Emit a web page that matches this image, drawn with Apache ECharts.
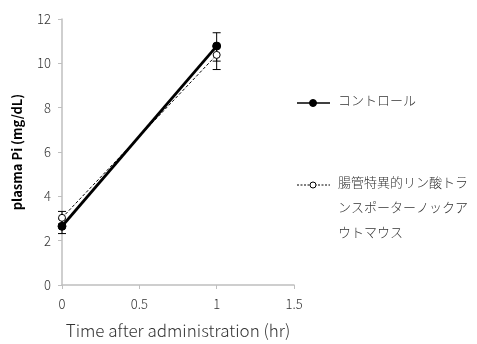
<!DOCTYPE html>
<html><head><meta charset="utf-8">
<script src="https://cdn.jsdelivr.net/npm/echarts@6/dist/echarts.min.js"></script>
<style>html,body{margin:0;padding:0;background:#fff}#c{width:477px;height:344px}</style>
</head><body><div id="c"></div>
<script>
const timePoints = [0, 1];
const controlName = 'コントロール';
const koName = '腸管特異的リン酸トランスポーターノックアウトマウス';
const koLabelLines = ['腸管特異的リン酸トラ', 'ンスポーターノックア', 'ウトマウス'];
const controlMean = [2.65, 10.78];
const controlLow = [2.32, 10.1];
const controlHigh = [2.98, 11.38];
const koMean = [3.03, 10.38];
const koLow = [2.75, 9.72];
const koHigh = [3.32, 10.75];
const yTicks = [0, 2, 4, 6, 8, 10, 12];
const xTicks = [0, 0.5, 1, 1.5];

const chart = echarts.init(document.getElementById('c'));
const FONT = '"Noto Sans CJK JP", "Noto Sans", sans-serif';

function errSeries(name, low, high, width) {
  return {
    type: 'custom', name: name + ' err', z: 3,
    data: timePoints.map((t, i) => [t, low[i], high[i]]),
    renderItem: function (params, api) {
      const lo = api.coord([api.value(0), api.value(1)]);
      const hi = api.coord([api.value(0), api.value(2)]);
      const w = 4;
      const st = { stroke: '#000', lineWidth: width };
      return { type: 'group', children: [
        { type: 'line', shape: { x1: lo[0], y1: lo[1], x2: hi[0], y2: hi[1] }, style: st },
        { type: 'line', shape: { x1: lo[0] - w, y1: lo[1], x2: lo[0] + w, y2: lo[1] }, style: st },
        { type: 'line', shape: { x1: hi[0] - w, y1: hi[1], x2: hi[0] + w, y2: hi[1] }, style: st }
      ]};
    }
  };
}

const lgX = 297, lgY1 = 103, lgY2 = 185;
const graphics = [
  { type: 'line', shape: { x1: lgX, y1: lgY1, x2: lgX + 33, y2: lgY1 }, style: { stroke: '#000', lineWidth: 1.5 } },
  { type: 'circle', shape: { cx: lgX + 16, cy: lgY1, r: 3.5 }, style: { fill: '#000', stroke: '#000' } },
  { type: 'text', left: lgX + 41, top: lgY1 - 9, style: { text: controlName, font: '300 13px ' + FONT, fill: '#333' } },
  { type: 'line', shape: { x1: lgX, y1: lgY2, x2: lgX + 33, y2: lgY2 }, style: { stroke: '#000', lineWidth: 1, lineDash: [2, 1.5] } },
  { type: 'circle', shape: { cx: lgX + 16, cy: lgY2, r: 3 }, style: { fill: '#fff', stroke: '#000', lineWidth: 1 } }
];
koLabelLines.forEach((s, i) => graphics.push({ type: 'text', left: lgX + 41, top: lgY2 - 9 + i * 25, style: { text: s, font: '300 13px ' + FONT, fill: '#333' } }));

chart.setOption({
  animation: false,
  backgroundColor: '#fff',
  grid: { left: 62, right: 183, top: 19, bottom: 58, containLabel: false },
  xAxis: {
    type: 'value', min: 0, max: 1.5, interval: 0.5,
    name: 'Time after administration (hr)', nameLocation: 'middle', nameGap: 37,
    nameTextStyle: { fontFamily: FONT, fontSize: 17, fontWeight: 300, color: '#333' },
    axisLine: { lineStyle: { color: '#bfbfbf', width: 1.5 } },
    axisTick: { show: true, length: 4, lineStyle: { color: '#bfbfbf' } },
    axisLabel: { fontFamily: FONT, fontSize: 13, fontWeight: 300, color: '#333', margin: 13, formatter: v => String(v) },
    splitLine: { show: false }
  },
  yAxis: {
    type: 'value', min: 0, max: 12, interval: 2,
    name: 'plasma Pi (mg/dL)', nameLocation: 'middle', nameGap: 38,
    nameTextStyle: { fontFamily: FONT, fontSize: 13, fontWeight: 'bold', color: '#000' },
    axisLine: { show: true, lineStyle: { color: '#bfbfbf', width: 1.5 } },
    axisTick: { show: true, length: 4, lineStyle: { color: '#bfbfbf' } },
    axisLabel: { fontFamily: FONT, fontSize: 13, fontWeight: 300, color: '#333', margin: 11 },
    splitLine: { show: false }
  },
  series: [
    errSeries('ctrl', controlLow, controlHigh, 1),
    errSeries('ko', koLow, koHigh, 1),
    { type: 'line', name: controlName, z: 4, data: timePoints.map((t, i) => [t, controlMean[i]]),
      symbol: 'circle', symbolSize: 8, lineStyle: { color: '#000', width: 2.8 },
      itemStyle: { color: '#000', borderColor: '#000' } },
    { type: 'line', name: koName, z: 5, data: timePoints.map((t, i) => [t, koMean[i]]),
      symbol: 'circle', symbolSize: 7, lineStyle: { color: '#000', width: 1, type: [3, 2] },
      itemStyle: { color: '#fff', borderColor: '#000', borderWidth: 1 } }
  ],
  graphic: graphics
});
</script></body></html>
